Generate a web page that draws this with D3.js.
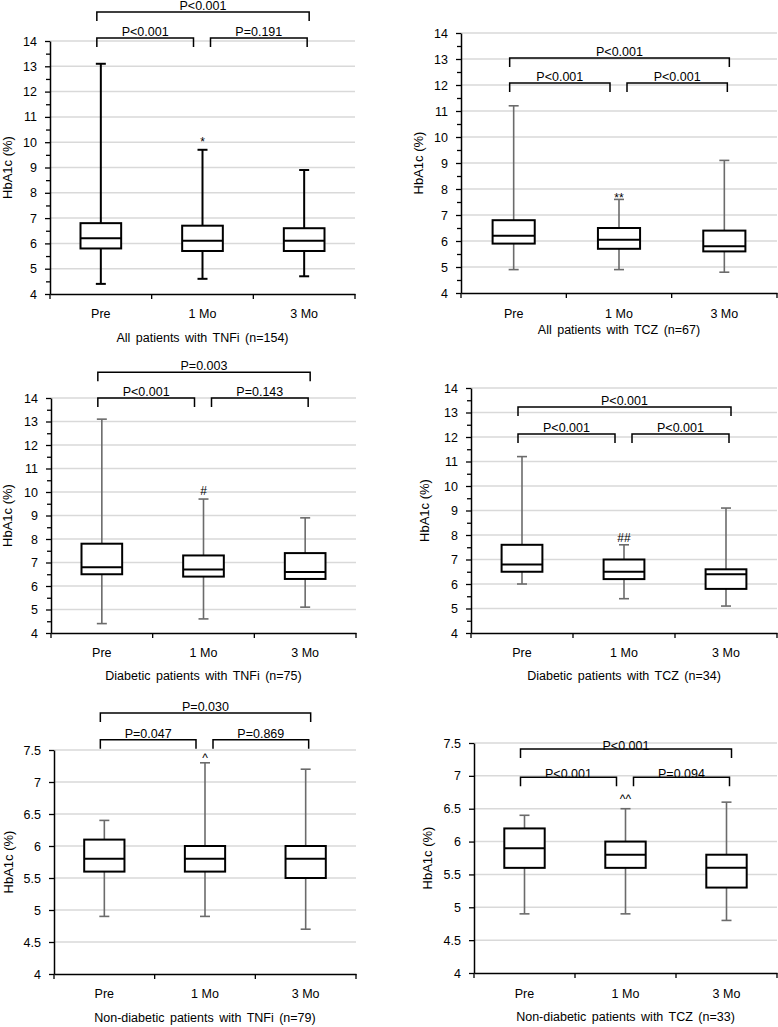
<!DOCTYPE html>
<html>
<head>
<meta charset="utf-8">
<script src="https://cdn.jsdelivr.net/npm/d3@7"></script>
<style>
  body { margin: 0; background: #fff; }
  svg { display: block; font-family: "Liberation Sans", Arial, sans-serif; }
</style>
</head>
<body>
<script>
// categories and titles
const categories = ["Pre", "1 Mo", "3 Mo"];
const panelTitles = [
	"All patients with TNFi (n=154)",
	"All patients with TCZ (n=67)",
	"Diabetic patients with TNFi (n=75)",
	"Diabetic patients with TCZ (n=34)",
	"Non-diabetic patients with TNFi (n=79)",
	"Non-diabetic patients with TCZ (n=33)"
];

// box plot values, one row per panel (Pre, 1 Mo, 3 Mo)
const whiskerLow = [[4.4, 4.6, 4.7], [4.9, 4.9, 4.8], [4.4, 4.6, 5.1], [6.0, 5.4, 5.1], [4.9, 4.9, 4.7], [4.9, 4.9, 4.8]];
const quartile1 = [[5.8, 5.7, 5.7], [5.9, 5.7, 5.6], [6.5, 6.4, 6.3], [6.5, 6.2, 5.8], [5.6, 5.6, 5.5], [5.6, 5.6, 5.3]];
const medians = [[6.2, 6.1, 6.1], [6.2, 6.05, 5.8], [6.8, 6.7, 6.6], [6.8, 6.5, 6.4], [5.8, 5.8, 5.8], [5.9, 5.8, 5.6]];
const quartile3 = [[6.8, 6.7, 6.6], [6.8, 6.5, 6.4], [7.8, 7.3, 7.4], [7.6, 7.0, 6.6], [6.1, 6.0, 6.0], [6.2, 6.0, 5.8]];
const whiskerHigh = [[13.1, 9.7, 8.9], [11.2, 7.6, 9.1], [13.1, 9.7, 8.9], [11.2, 7.6, 9.1], [6.4, 7.3, 7.2], [6.4, 6.5, 6.6]];

// p values: [Pre vs 3 Mo, Pre vs 1 Mo, 1 Mo vs 3 Mo]
const pLabels = [
	["P<0.001", "P<0.001", "P=0.191"],
	["P<0.001", "P<0.001", "P<0.001"],
	["P=0.003", "P<0.001", "P=0.143"],
	["P<0.001", "P<0.001", "P<0.001"],
	["P=0.030", "P=0.047", "P=0.869"],
	["P<0.001", "P<0.001", "P=0.094"]
];
// bracket heights in HbA1c units: [outer, inner]
const bracketLevels = [[15.15, 14.12], [13.04, 12.08], [15.1, 14.0], [13.22, 12.12], [8.08, 7.66], [7.41, 6.98]];

// significance marks over 1 Mo
const markers = ["*", "**", "#", "##", "^", "^^"];
const markerLevels = [9.85, 7.5, 9.89, 7.73, 7.31, 6.59];

// y axis per panel
const yDomains = [[4, 14], [4, 14], [4, 14], [4, 14], [4, 7.5], [4, 7.5]];
const yTickSteps = [1, 1, 1, 1, 0.5, 0.5];

//width and height of svg
const width = 778;
const height = 1027;

// pixel frame of every panel
const frames = [
	{left: 50, right: 355, top: 41, bottom: 294, catY: 318, titleY: 342, labelX: 7},
	{left: 461, right: 777, top: 33, bottom: 293, catY: 318, titleY: 334, labelX: 418},
	{left: 51, right: 356, top: 398, bottom: 633, catY: 657, titleY: 680, labelX: 7},
	{left: 471, right: 777, top: 388, bottom: 633, catY: 657, titleY: 680, labelX: 424},
	{left: 54, right: 356, top: 750, bottom: 974, catY: 998, titleY: 1022, labelX: 8},
	{left: 474, right: 777, top: 743, bottom: 973, catY: 998, titleY: 1021, labelX: 427}
];

const svg = d3.select("body").append("svg")
	.attr("width", width)
	.attr("height", height);

const drawPanel = i => {
	const f = frames[i];
	const g = svg.append("g");
	const [lo, hi] = yDomains[i];
	const step = yTickSteps[i];

	const x = d3.scaleBand().domain(categories).range([f.left, f.right]);
	const y = d3.scaleLinear().domain(yDomains[i]).range([f.bottom, f.top]);
	const cx = c => x(c) + x.bandwidth() / 2;

	const majors = d3.range(lo, hi + step / 2, step);

	// grid lines
	g.append("g").selectAll("line")
		.data(majors.slice(1))
		.join("line")
		.attr("x1", f.left).attr("x2", f.right)
		.attr("y1", d => y(d)).attr("y2", d => y(d))
		.attr("stroke", "#d9d9d9")
		.attr("stroke-width", 1.5);

	// minor ticks only on the 4-14 panels
	if (step === 1) {
		const minorAxis = d3.axisLeft(y)
			.tickValues(d3.range(lo + 0.5, hi, 1))
			.tickSize(4)
			.tickFormat("");
		const mg = g.append("g").attr("transform", `translate(${f.left},0)`).call(minorAxis);
		mg.select(".domain").remove();
		mg.selectAll("line").attr("stroke", "#000").attr("stroke-width", 1.3);
	}

	const yAxis = d3.axisLeft(y)
		.tickValues(majors)
		.tickSize(5)
		.tickSizeOuter(0)
		.tickPadding(8)
		.tickFormat(d3.format("~g"));
	const yg = g.append("g").attr("transform", `translate(${f.left},0)`).call(yAxis);
	yg.select(".domain").attr("stroke", "#000").attr("stroke-width", 1.5);
	yg.selectAll(".tick line").attr("stroke", "#000").attr("stroke-width", 1.3);
	yg.selectAll("text").attr("font-size", 12.5).attr("fill", "#000").attr("font-family", null);

	// x axis labels
	const xAxis = d3.axisBottom(x).tickSize(0).tickSizeOuter(0).tickPadding(f.catY - f.bottom - 9);
	const xg = g.append("g").attr("transform", `translate(0,${f.bottom})`).call(xAxis);
	xg.select(".domain").attr("stroke", "#000").attr("stroke-width", 1.5);
	xg.selectAll("text").attr("font-size", 12.5).attr("fill", "#000").attr("font-family", null);

	// boundary ticks between categories
	const bounds = categories.map(c => x(c)).concat([x.range()[1]]);
	g.append("g").selectAll("line")
		.data(bounds)
		.join("line")
		.attr("x1", d => d).attr("x2", d => d)
		.attr("y1", f.bottom).attr("y2", f.bottom + 5)
		.attr("stroke", "#000")
		.attr("stroke-width", 1.3);

	// boxes
	const whiskerColor = i === 0 ? "#000" : "#6b6b6b";
	const whiskerWidth = i === 0 ? 2 : 1.6;
	const bw = x.bandwidth() * 0.4;
	const rows = categories.map((c, j) => ({
		c: c,
		low: whiskerLow[i][j],
		q1: quartile1[i][j],
		med: medians[i][j],
		q3: quartile3[i][j],
		high: whiskerHigh[i][j]
	}));

	const box = g.append("g").selectAll("g").data(rows).join("g");
	box.append("line")
		.attr("x1", d => cx(d.c)).attr("x2", d => cx(d.c))
		.attr("y1", d => y(d.low)).attr("y2", d => y(d.high))
		.attr("stroke", whiskerColor).attr("stroke-width", whiskerWidth);
	["low", "high"].forEach(k => {
		box.append("line")
			.attr("x1", d => cx(d.c) - 5).attr("x2", d => cx(d.c) + 5)
			.attr("y1", d => y(d[k])).attr("y2", d => y(d[k]))
			.attr("stroke", whiskerColor).attr("stroke-width", whiskerWidth);
	});
	box.append("rect")
		.attr("x", d => cx(d.c) - bw / 2)
		.attr("width", bw)
		.attr("y", d => y(d.q3))
		.attr("height", d => y(d.q1) - y(d.q3))
		.attr("fill", "#fff")
		.attr("stroke", "#000")
		.attr("stroke-width", 2);
	box.append("line")
		.attr("x1", d => cx(d.c) - bw / 2).attr("x2", d => cx(d.c) + bw / 2)
		.attr("y1", d => y(d.med)).attr("y2", d => y(d.med))
		.attr("stroke", "#000").attr("stroke-width", 2);

	// significance brackets
	const c0 = cx(categories[0]), c1 = cx(categories[1]), c2 = cx(categories[2]);
	const brackets = [
		{x0: c0 - 4, x1: c2 + 5, level: bracketLevels[i][0], text: pLabels[i][0]},
		{x0: c0 - 4, x1: c1 - 9, level: bracketLevels[i][1], text: pLabels[i][1]},
		{x0: c1 + 8, x1: c2 + 3, level: bracketLevels[i][1], text: pLabels[i][2]}
	];
	const textShift = i === 5 ? 1 : -2;
	const br = g.append("g").selectAll("g").data(brackets).join("g");
	br.append("path")
		.attr("d", d => `M${d.x0},${y(d.level) + 9}V${y(d.level)}H${d.x1}V${y(d.level) + 9}`)
		.attr("fill", "none")
		.attr("stroke", "#000")
		.attr("stroke-width", 1.5);
	br.append("text")
		.attr("x", d => (d.x0 + d.x1) / 2)
		.attr("y", d => y(d.level) + textShift)
		.attr("text-anchor", "middle")
		.attr("font-size", 12.5)
		.text(d => d.text);

	// marker over 1 Mo
	g.append("text")
		.attr("x", c1)
		.attr("y", y(markerLevels[i]))
		.attr("text-anchor", "middle")
		.attr("font-size", 12)
		.text(markers[i]);

	// y label
	g.append("text")
		.attr("transform", `translate(${f.labelX},${(f.top + f.bottom) / 2}) rotate(-90)`)
		.attr("text-anchor", "middle")
		.attr("dominant-baseline", "central")
		.attr("font-size", 13)
		.text("HbA1c (%)");

	// panel title
	g.append("text")
		.attr("x", (f.left + f.right) / 2)
		.attr("y", f.titleY)
		.attr("text-anchor", "middle")
		.attr("font-size", 12.5)
		.attr("word-spacing", 2)
		.text(panelTitles[i]);
};

d3.range(frames.length).forEach(drawPanel);
</script>
</body>
</html>
